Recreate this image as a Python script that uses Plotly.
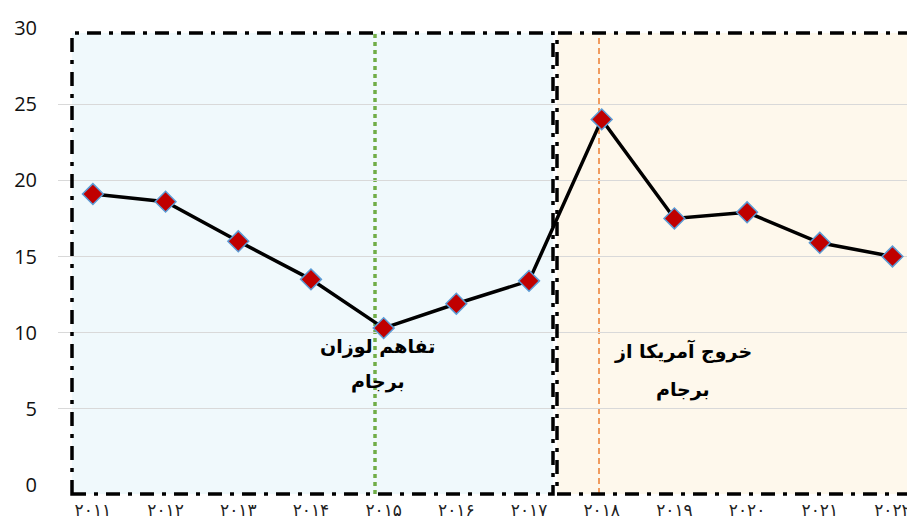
import plotly.graph_objects as go

years = ["۲۰۱۱", "۲۰۱۲", "۲۰۱۳", "۲۰۱۴", "۲۰۱۵", "۲۰۱۶", "۲۰۱۷", "۲۰۱۸", "۲۰۱۹", "۲۰۲۰", "۲۰۲۱", "۲۰۲۲"]
values = [19.1, 18.6, 16.0, 13.5, 10.3, 11.9, 13.4, 24.0, 17.5, 17.9, 15.9, 15.0]
y_ticks = [0, 5, 10, 15, 20, 25, 30]

idx = list(range(len(years)))

fig = go.Figure()
fig.add_trace(go.Scatter(
    x=idx, y=values, mode="lines+markers",
    line=dict(color="black", width=3.5),
    marker=dict(symbol="diamond", size=16, color="#C00000",
                line=dict(color="#5B9BD5", width=1.5)),
    hoverinfo="skip", showlegend=False,
))

def px_x(p):
    return (p - 58) / 857.0

def px_y(p):
    return (485 - p) / 457.0

dash = "14px,8px,4px,8px"
shapes = [
    dict(type="rect", xref="paper", yref="paper", x0=px_x(72), x1=px_x(553), y0=px_y(494), y1=px_y(33),
         fillcolor="#F0F9FC", line=dict(width=0), layer="below"),
    dict(type="rect", xref="paper", yref="paper", x0=px_x(557), x1=px_x(912), y0=px_y(494), y1=px_y(33),
         fillcolor="#FEF8EC", line=dict(width=0), layer="below"),
    dict(type="line", xref="paper", yref="paper", x0=px_x(375), x1=px_x(375), y0=px_y(494), y1=px_y(33),
         line=dict(color="#70AD47", width=3.5, dash="4px,4px"), layer="below"),
    dict(type="line", xref="paper", yref="paper", x0=px_x(599), x1=px_x(599), y0=px_y(494), y1=px_y(33),
         line=dict(color="#ED7D31", width=1.5, dash="6px,4px"), layer="below"),
    dict(type="rect", xref="paper", yref="paper", x0=px_x(72), x1=px_x(553), y0=px_y(494), y1=px_y(33),
         fillcolor="rgba(0,0,0,0)", line=dict(color="black", width=3.5, dash=dash)),
    dict(type="rect", xref="paper", yref="paper", x0=px_x(557), x1=px_x(912), y0=px_y(494), y1=px_y(33),
         fillcolor="rgba(0,0,0,0)", line=dict(color="black", width=3.5, dash=dash)),
]

afont = dict(family="DejaVu Sans", size=19, color="black")
annotations = [
    dict(x=3.92, y=9.1, text="<b>تفاهم لوزان</b>", showarrow=False, font=afont),
    dict(x=3.92, y=6.8, text="<b>برجام</b>", showarrow=False, font=afont),
    dict(x=8.12, y=8.8, text="<b>خروج آمریکا از</b>", showarrow=False, font=afont),
    dict(x=8.12, y=6.3, text="<b>برجام</b>", showarrow=False, font=afont),
]

fig.update_layout(
    width=907, height=517,
    margin=dict(l=50, r=0, t=20, b=40),
    plot_bgcolor="white", paper_bgcolor="white",
    shapes=shapes, annotations=annotations,
    font=dict(family="DejaVu Sans", color="black"),
    xaxis=dict(range=[-0.48, 11.31], tickvals=idx, ticktext=years, showgrid=False,
               zeroline=False, showline=False, ticks="outside", ticklen=10,
               tickcolor="rgba(0,0,0,0)", tickfont=dict(size=17, color="#222")),
    yaxis=dict(range=[0, 30], tickvals=y_ticks, showgrid=True, gridcolor="#D9D9D9",
               gridwidth=1.2, zeroline=False, showline=False, ticks="outside", ticklen=16,
               tickcolor="rgba(0,0,0,0)", tickfont=dict(family="Open Sans", size=20, color="#111")),
)

fig.write_html("out.html")
